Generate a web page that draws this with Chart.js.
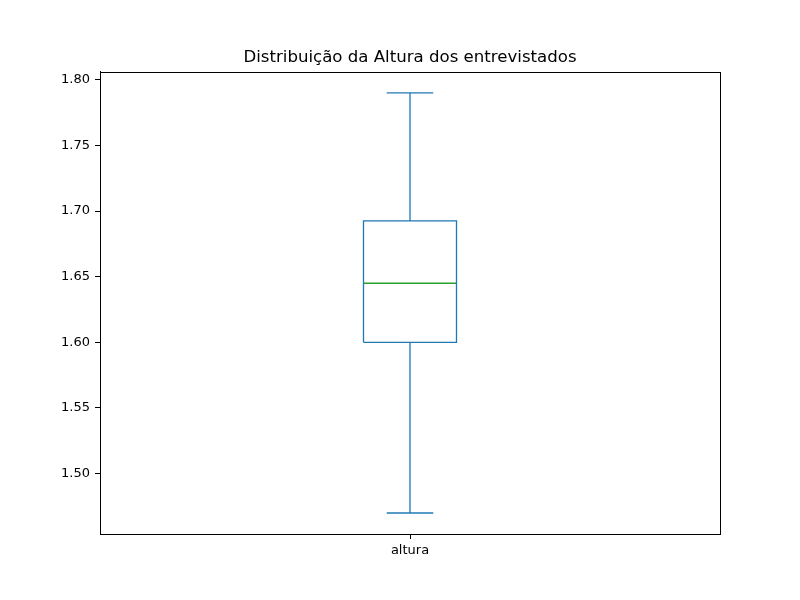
<!DOCTYPE html>
<html>
<head>
<meta charset="utf-8">
<script src="https://cdn.jsdelivr.net/npm/chart.js@4/dist/chart.umd.min.js"></script>
<style>
html,body{margin:0;padding:0;background:#fff;}
#wrap{width:800px;height:600px;}
</style>
</head>
<body>
<div id="wrap"><canvas id="c" width="800" height="600"></canvas></div>
<script>
const categories = ['altura'];
const whiskerLow = [1.47];
const q1 = [1.60];
const median = [1.645];
const q3 = [1.6925];
const whiskerHigh = [1.79];
const yTicks = [1.50, 1.55, 1.60, 1.65, 1.70, 1.75, 1.80];

const BOX_W = 0.15;
const CAP_W = BOX_W / 2;
const BLUE = '#1f77b4';
const GREEN = '#2ca02c';
const FONT = 'DejaVu Sans';

const datasets = [];
categories.forEach((cat, i) => {
  const x = i + 1;
  const h = BOX_W / 2, c = CAP_W / 2;
  const line = (pts, color) => ({
    type: 'scatter', data: pts, showLine: true, borderColor: color, borderWidth: 1.3,
    pointRadius: 0, pointHoverRadius: 0, fill: false, tension: 0
  });
  // box
  datasets.push(line([
    {x: x - h, y: q1[i]}, {x: x + h, y: q1[i]}, {x: x + h, y: q3[i]},
    {x: x - h, y: q3[i]}, {x: x - h, y: q1[i]}
  ], BLUE));
  // whiskers
  datasets.push(line([{x: x, y: q1[i]}, {x: x, y: whiskerLow[i]}], BLUE));
  datasets.push(line([{x: x, y: q3[i]}, {x: x, y: whiskerHigh[i]}], BLUE));
  // caps
  datasets.push(line([{x: x - c, y: whiskerLow[i]}, {x: x + c, y: whiskerLow[i]}], BLUE));
  datasets.push(line([{x: x - c, y: whiskerHigh[i]}, {x: x + c, y: whiskerHigh[i]}], BLUE));
  // median
  datasets.push(line([{x: x - h, y: median[i]}, {x: x + h, y: median[i]}], GREEN));
});

const allVals = [].concat(whiskerLow, whiskerHigh);
const dMin = Math.min(...allVals), dMax = Math.max(...allVals);
const margin = (dMax - dMin) * 0.05;

const frame = {
  id: 'frame',
  afterDatasetsDraw(chart) {
    const a = chart.chartArea, ctx = chart.ctx;
    ctx.save();
    ctx.strokeStyle = '#000';
    ctx.lineWidth = 1;
    ctx.strokeRect(Math.round(a.left) + 0.5, Math.round(a.top) + 0.5,
      Math.round(a.right - a.left), Math.round(a.bottom - a.top));
    ctx.restore();
  }
};

new Chart(document.getElementById('c'), {
  type: 'scatter',
  data: { datasets },
  plugins: [frame],
  options: {
    responsive: false,
    animation: false,
    events: [],
    layout: { padding: { left: 20, right: 0, top: 0, bottom: 0 } },
    plugins: {
      legend: { display: false },
      tooltip: { enabled: false },
      title: {
        display: true,
        text: 'Distribuição da Altura dos entrevistados',
        color: '#000',
        font: { family: FONT, size: 16.6, weight: 'normal' },
        padding: { top: 48, bottom: 4 }
      }
    },
    scales: {
      x: {
        type: 'linear',
        min: 0.5,
        max: categories.length + 0.5,
        afterBuildTicks(axis) { axis.ticks = categories.map((c, i) => ({ value: i + 1 })); },
        afterFit(axis) { axis.height = 66; },
        ticks: {
          color: '#000',
          font: { family: FONT, size: 13 },
          padding: 4,
          maxRotation: 0,
          callback: (v) => categories[Math.round(v) - 1] || ''
        },
        grid: { display: true, drawOnChartArea: false, drawTicks: true, tickLength: 5, color: '#000' },
        border: { display: true, color: '#000' }
      },
      y: {
        type: 'linear',
        position: 'left',
        min: dMin - margin,
        max: dMax + margin,
        afterBuildTicks(axis) { axis.ticks = yTicks.map(v => ({ value: v })); },
        afterFit(axis) { axis.width = 80; },
        ticks: {
          color: '#000',
          font: { family: FONT, size: 13 },
          padding: 5,
          callback: (v) => v.toFixed(2)
        },
        grid: { display: true, drawOnChartArea: false, drawTicks: true, tickLength: 5, color: '#000' },
        border: { display: true, color: '#000' }
      },
      yRight: {
        type: 'linear',
        position: 'right',
        display: true,
        min: 0,
        max: 1,
        afterFit(axis) { axis.width = 80; },
        ticks: { display: false },
        grid: { display: false, drawTicks: false },
        border: { display: false }
      }
    }
  }
});
</script>
</body>
</html>
